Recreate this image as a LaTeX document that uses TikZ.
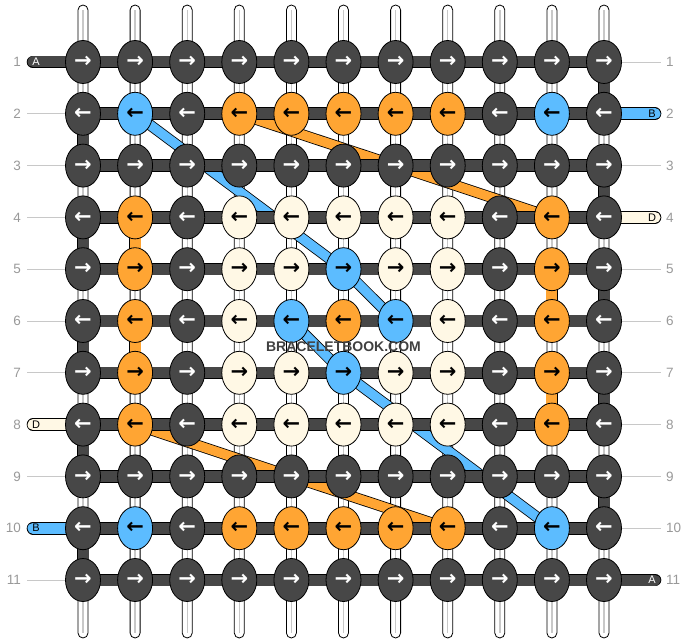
\documentclass[tikz,border=0pt]{standalone}
\usepackage{fontspec}
\setmainfont{Liberation Sans}
\newfontfamily\arrowfont{DejaVu Sans}
\usetikzlibrary{shapes.geometric,calc}
\definecolor{kd}{RGB}{71,71,71}
\definecolor{kb}{RGB}{92,188,255}
\definecolor{ko}{RGB}{255,165,51}
\definecolor{kc}{RGB}{255,248,229}
\colorlet{td}{white}
\colorlet{tb}{black}
\colorlet{to}{black}
\colorlet{tc}{black}
\definecolor{numgray}{RGB}{153,153,153}
\definecolor{linegray}{RGB}{200,200,200}
\begin{document}
\begin{tikzpicture}[x=1pt,y=-1pt,
  knot/.style={ellipse, draw=black, line width=0.8pt, minimum width=35pt, minimum height=43pt, inner sep=0pt, font=\arrowfont\bfseries\fontsize{21}{21}\selectfont},
  warp/.style={draw=black, fill=white, line width=0.8pt, rounded corners=5pt},
  warpline/.style={draw=linegray, line width=1.4pt},
  outl/.style={draw=black, line width=12.6pt},
  inl/.style={line width=11pt},
  bandout/.style={draw=black, line width=11pt},
  bandin/.style={line width=9.4pt},
  num/.style={text=numgray, font=\fontsize{13.5}{13.5}\selectfont, inner sep=0pt},
  endlab/.style={font=\fontsize{11}{11}\selectfont, inner sep=0pt},
  lablin/.style={draw=linegray, line width=0.8pt}]
\useasboundingbox (0,0) rectangle (688,644);
% positions
\foreach \r in {1,...,11}
  \foreach \c in {1,...,11}
    \coordinate (p-\r-\c) at ({83+52.1*(\c-1)},{62+51.8*(\r-1)});
\foreach \c in {1,...,11} {
  \coordinate (t-\c) at ({83+52.1*(\c-1)},5);
  \coordinate (b-\c) at ({83+52.1*(\c-1)},638);
}
% vertical warp strands
\foreach \c in {1,...,11} {
  \draw[warp] ($(t-\c)+(-5,0)$) rectangle ($(b-\c)+(5,0)$);
  \draw[warpline] ($(t-\c)+(0,5)$) -- ($(b-\c)+(0,-5)$);
}
% diagonal bands
\foreach \a/\b in {p-2-4/p-4-10, p-8-2/p-10-8, p-2-2/p-5-6, p-5-6/p-6-7, p-6-5/p-7-6, p-7-6/p-10-10} {
  \draw[bandout] (\a) -- (\b);
}
\foreach \a/\b/\col in {p-2-4/p-4-10/ko, p-8-2/p-10-8/ko, p-2-2/p-5-6/kb, p-5-6/p-6-7/kb, p-6-5/p-7-6/kb, p-7-6/p-10-10/kb} {
  \draw[bandin, draw=\col] (\a) -- (\b);
}
% label lines
\foreach \r in {2,3,4,5,6,7,9,11} {
  \coordinate (ll-\r) at (27,{62+51.8*(\r-1)});
  \draw[lablin] (ll-\r) -- (p-\r-1);
}
\foreach \r in {1,3,5,6,7,8,9,10} {
  \coordinate (rl-\r) at (661,{62+51.8*(\r-1)});
  \draw[lablin] (p-\r-11) -- (rl-\r);
}
% strand ends
\foreach \r/\col in {1/kd, 8/kc, 10/kb} {
  \coordinate (e-\r) at (33,{62+51.8*(\r-1)});
  \draw[outl, line cap=round] (e-\r) -- (p-\r-1);
  \draw[inl, draw=\col, line cap=round] (e-\r) -- (p-\r-1);
}
\foreach \r/\col in {2/kb, 4/kc, 11/kd} {
  \coordinate (e-\r) at (655,{62+51.8*(\r-1)});
  \draw[outl, line cap=round] (p-\r-11) -- (e-\r);
  \draw[inl, draw=\col, line cap=round] (p-\r-11) -- (e-\r);
}
% end letters
\node[endlab, text=white] (lA1) at (36,62) {A};
\node[endlab, text=black] (lD8) at (36,424.6) {D};
\node[endlab, text=black] (lB10) at (36,528.2) {B};
\node[endlab, text=black] (lB2) at (652,113.8) {B};
\node[endlab, text=black] (lD4) at (652,217.4) {D};
\node[endlab, text=white] (lA11) at (652,580) {A};
% horizontal bars
\foreach \r in {1,...,11} {
  \draw[outl] (p-\r-1) -- (p-\r-11);
  \draw[inl, draw=kd] (p-\r-1) -- (p-\r-11);
}
% coloured vertical segments
\foreach \r/\c/\col in {2/1/kd, 4/1/kd, 6/1/kd, 8/1/kd, 10/1/kd, 1/11/kd, 3/11/kd, 5/11/kd, 7/11/kd, 9/11/kd, 4/2/ko, 6/2/ko, 5/10/ko, 7/10/ko} {
  \pgfmathtruncatemacro\rr{\r+1}
  \draw[outl] (p-\r-\c) -- (p-\rr-\c);
  \draw[inl, draw=\col] (p-\r-\c) -- (p-\rr-\c);
}
% knots
\foreach \r/\cols in {
  1/{d,d,d,d,d,d,d,d,d,d,d},
  2/{d,b,d,o,o,o,o,o,d,b,d},
  3/{d,d,d,d,d,d,d,d,d,d,d},
  4/{d,o,d,c,c,c,c,c,d,o,d},
  5/{d,o,d,c,c,b,c,c,d,o,d},
  6/{d,o,d,c,b,o,b,c,d,o,d},
  7/{d,o,d,c,c,b,c,c,d,o,d},
  8/{d,o,d,c,c,c,c,c,d,o,d},
  9/{d,d,d,d,d,d,d,d,d,d,d},
  10/{d,b,d,o,o,o,o,o,d,b,d},
  11/{d,d,d,d,d,d,d,d,d,d,d}} {
  \foreach \k [count=\c] in \cols {
    \node[knot, fill=k\k, text=t\k] (k-\r-\c) at (p-\r-\c) {\ifodd\r →\else ←\fi};
  }
}
% row numbers
\foreach \r in {1,...,11} {
  \node[num, anchor=east] (nl-\r) at (21,{62+51.8*(\r-1)}) {\r};
  \node[num, anchor=west] (nr-\r) at (666,{62+51.8*(\r-1)}) {\r};
}
% watermark
\node[text={rgb,255:red,64;green,64;blue,64}, font=\bfseries\fontsize{14}{14}\selectfont, inner sep=0pt] (wm) at (343.5,347) {BRACELETBOOK.COM};
\end{tikzpicture}
\end{document}
